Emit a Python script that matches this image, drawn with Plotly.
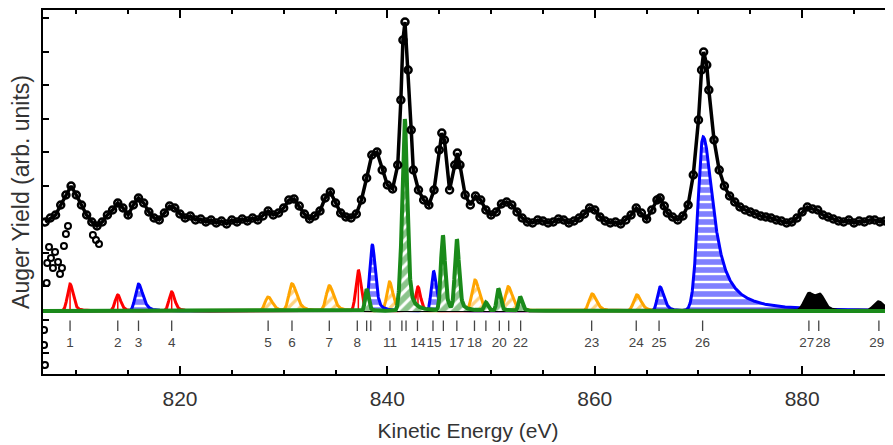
import numpy as np
import plotly.graph_objects as go

energy = [807.0, 807.5, 808.0, 808.5, 809.0, 809.5, 810.0, 810.5, 811.0, 811.5,
          812.0, 812.5, 813.0, 813.5, 814.0, 814.5, 815.0, 815.5, 816.0, 816.5,
          817.0, 817.5, 818.0, 818.5, 819.0, 819.5, 820.0, 820.5, 821.0, 821.5,
          822.0, 822.5, 823.0, 823.5, 824.0, 824.5, 825.0, 825.5, 826.0, 826.5,
          827.0, 827.5, 828.0, 828.5, 829.0, 829.5, 830.0, 830.5, 831.0, 831.5,
          832.0, 832.5, 833.0, 833.5, 834.0, 834.5, 835.0, 835.5, 836.0, 836.5,
          837.0, 837.5, 838.0, 838.5, 839.0, 839.5, 840.0, 840.5, 841.0, 841.3,
          841.5, 841.7, 842.0, 842.3, 842.5, 843.0, 843.5, 844.0, 844.5, 845.0,
          845.25, 845.5, 846.0, 846.5, 846.75, 847.0, 847.5, 848.0, 848.5, 849.0,
          849.5, 850.0, 850.5, 851.0, 851.5, 852.0, 852.5, 853.0, 853.5, 854.0,
          854.5, 855.0, 855.5, 856.0, 856.5, 857.0, 857.5, 858.0, 858.5, 859.0,
          859.5, 860.0, 860.5, 861.0, 861.5, 862.0, 862.5, 863.0, 863.5, 864.0,
          864.5, 865.0, 865.5, 866.0, 866.3, 866.7, 867.0, 867.5, 868.0, 868.5,
          869.0, 869.5, 870.0, 870.3, 870.5, 870.8, 871.0, 871.5, 872.0, 872.5,
          873.0, 873.5, 874.0, 874.5, 875.0, 875.5, 876.0, 876.5, 877.0, 877.5,
          878.0, 878.5, 879.0, 879.5, 880.0, 880.5, 881.0, 881.5, 882.0, 882.5,
          883.0, 883.5, 884.0, 884.5, 885.0, 885.5, 886.0, 886.5, 887.0, 887.5,
          888.0, 888.5]
auger_yield = [0.89, 0.93, 0.96, 1.06, 1.16, 1.25, 1.16, 1.06, 0.96, 0.89,
               0.85, 0.89, 0.96, 1.01, 1.08, 1.03, 0.96, 1.06, 1.13, 1.08,
               0.99, 0.93, 0.91, 0.98, 1.05, 1.03, 0.97, 0.93, 0.95, 0.91,
               0.92, 0.89, 0.91, 0.88, 0.90, 0.87, 0.91, 0.89, 0.92, 0.90,
               0.93, 0.91, 0.95, 1.00, 0.96, 0.98, 1.03, 1.11, 1.12, 1.05,
               0.97, 0.92, 0.95, 1.00, 1.13, 1.19, 1.08, 0.98, 0.94, 0.93,
               0.97, 1.11, 1.33, 1.56, 1.59, 1.41, 1.26, 1.22, 1.46, 2.11,
               2.71, 2.89, 2.41, 1.81, 1.41, 1.21, 1.11, 1.06, 1.21, 1.61,
               1.78, 1.71, 1.21, 1.46, 1.58, 1.46, 1.16, 1.06, 1.15, 1.11,
               1.01, 0.96, 0.99, 1.07, 1.09, 1.06, 0.99, 0.93, 0.89, 0.88,
               0.91, 0.90, 0.88, 0.89, 0.92, 0.91, 0.88, 0.90, 0.93, 0.97,
               1.03, 1.01, 0.94, 0.90, 0.88, 0.89, 0.87, 0.91, 0.96, 1.03,
               0.98, 0.92, 1.01, 1.11, 1.13, 1.05, 0.98, 0.94, 0.91, 0.95,
               1.06, 1.36, 1.91, 2.41, 2.59, 2.46, 2.21, 1.71, 1.41, 1.25,
               1.15, 1.09, 1.04, 1.01, 0.99, 0.97, 0.95, 0.94, 0.93, 0.91,
               0.90, 0.88, 0.89, 0.93, 0.99, 1.04, 1.02, 1.01, 0.96, 0.94,
               0.92, 0.90, 0.89, 0.91, 0.88, 0.90, 0.89, 0.91, 0.91, 0.89,
               0.90, 0.91]

# stray low points at the start of the scan
stray_energy = [806.89, 806.89, 806.98, 807.14, 807.20, 807.37, 807.56, 807.75,
                807.95, 808.24, 808.43, 808.62, 808.81, 809.00, 809.20, 811.60,
                811.90, 812.19]
stray_yield = [-0.19, -0.34, -0.54, 0.28, 0.48, 0.64, 0.53, 0.43,
               0.59, 0.49, 0.37, 0.43, 0.65, 0.77, 0.85, 0.76,
               0.71, 0.67]

# ---------------- fitted components ----------------
peak_center = [809.4, 814.0, 816.0, 819.2, 828.5, 830.8, 834.4, 837.2, 838.0, 838.55,
               840.2, 841.4, 841.7, 842.95, 844.45, 845.35, 846.7, 848.45, 849.5, 850.7,
               851.65, 852.8, 859.75, 864.05, 866.3, 870.45, 880.65, 881.7, 887.35]
peak_height = [0.27, 0.16, 0.27, 0.19, 0.14, 0.27, 0.25, 0.41, 0.22, 0.66,
               0.29, 0.50, 1.66, 0.24, 0.40, 0.75, 0.70, 0.31, 0.08, 0.22,
               0.24, 0.14, 0.17, 0.16, 0.24, 1.74, 0.17, 0.15, 0.09]
peak_wleft = [0.30, 0.30, 0.35, 0.30, 0.35, 0.35, 0.35, 0.28, 0.18, 0.30,
              0.30, 0.25, 0.22, 0.28, 0.25, 0.22, 0.22, 0.35, 0.18, 0.18,
              0.35, 0.18, 0.35, 0.35, 0.30, 0.59, 0.50, 0.50, 0.50]
peak_wright = [0.35, 0.35, 0.50, 0.35, 0.50, 0.55, 0.50, 0.30, 0.20, 0.35,
               0.40, 0.30, 0.28, 0.30, 0.30, 0.25, 0.25, 0.50, 0.20, 0.22,
               0.50, 0.22, 0.50, 0.50, 0.45, 1.20, 0.50, 0.50, 0.60]
peak_eta = [0.5, 0.5, 0.5, 0.5, 0.5, 0.5, 0.5, 0.5, 0.5, 0.5,
            0.5, 0.5, 0.5, 0.5, 0.5, 0.5, 0.5, 0.5, 0.5, 0.5,
            0.5, 0.5, 0.5, 0.5, 0.5, 1.0, 0.5, 0.5, 0.5]
peak_group = ["red", "red", "blue", "red", "orange", "orange", "orange", "red", "green", "blue",
              "orange", "green", "green", "red", "blue", "green", "green", "orange", "green", "green",
              "orange", "green", "orange", "orange", "blue", "blue", "black", "black", "black"]

# ---------------- assignment markers ----------------
line_energy = [809.4, 814.0, 816.0, 819.2, 828.5, 830.8, 834.4, 837.1, 838.0, 838.4,
               840.25, 841.4, 841.8, 842.9, 844.4, 845.4, 846.7, 848.4, 849.5, 850.8,
               851.7, 852.85, 859.7, 864.0, 866.2, 870.4, 880.65, 881.6, 887.4]
label_energy = [809.4, 814.0, 816.0, 819.2, 828.5, 830.8, 834.4, 837.1, 838.0, 838.4,
                840.25, 841.4, 841.8, 842.95, 844.5, 845.4, 846.7, 848.4, 849.5, 850.8,
                851.7, 852.85, 859.7, 864.0, 866.2, 870.4, 880.45, 882.0, 887.2]
line_label = ["1", "2", "3", "4", "5", "6", "7", "8", "", "",
              "11", "", "", "14", "15", "", "17", "18", "", "20",
              "", "22", "23", "24", "25", "26", "27", "28", "29"]

x_range = [806.79, 888.76]
y_range = [-0.63, 3.01]
tick_bar = [-0.095, -0.20]
label_level = -0.325

colors = {"red": "#ff0000", "blue": "#0000ff", "orange": "#ffa500",
          "green": "#1a8a1a", "black": "#000000"}


def profile(x, c, h, wl, wr, eta):
    d = x - c
    left = h * np.exp(-np.log(2) * (d / wl) ** 2)
    g = np.exp(-np.log(2) * (d / wr) ** 2)
    lor = 1.0 / (1.0 + (d / wr) ** 2)
    right = h * (eta * lor + (1 - eta) * g)
    return np.where(d < 0, left, right)


grid = np.linspace(x_range[0], x_range[1], 5000)

fig = go.Figure()

order = ["orange", "red", "blue", "black", "green"]
for grp in order:
    total = np.zeros_like(grid)
    for c, h, wl, wr, eta, g in zip(peak_center, peak_height, peak_wleft,
                                    peak_wright, peak_eta, peak_group):
        if g == grp:
            total += profile(grid, c, h, wl, wr, eta)
    col = colors[grp]
    kw = dict(x=grid, y=total, mode="lines", line=dict(color=col, width=3),
              showlegend=False, hoverinfo="skip")
    if grp == "blue":
        kw.update(fill="tozeroy",
                  fillpattern=dict(shape="-", fgcolor=col, bgcolor="white",
                                   size=8, solidity=0.7))
    elif grp == "green":
        kw.update(fill="tozeroy", line=dict(color=col, width=4),
                  fillpattern=dict(shape="/", fgcolor=col, bgcolor="white",
                                   size=9, solidity=0.65))
    elif grp == "orange":
        kw.update(fill="tozeroy",
                  fillpattern=dict(shape="/", fgcolor=col, bgcolor="white",
                                   size=8, solidity=0.4))
    elif grp == "black":
        kw.update(fill="tozeroy", fillcolor=col)
    fig.add_trace(go.Scatter(**kw))
    if grp == "red":
        sx, sy = [], []
        for c, h, g in zip(peak_center, peak_height, peak_group):
            if g == "red":
                sx += [c, c, None]
                sy += [0, h, None]
        fig.add_trace(go.Scatter(x=sx, y=sy, mode="lines",
                                 line=dict(color=col, width=1.5),
                                 showlegend=False, hoverinfo="skip"))

# assignment bars and numbers
bx, by = [], []
for e in line_energy:
    bx += [e, e, None]
    by += [tick_bar[0], tick_bar[1], None]
fig.add_trace(go.Scatter(x=bx, y=by, mode="lines", line=dict(color="#444", width=1.3),
                         showlegend=False, hoverinfo="skip"))
fig.add_trace(go.Scatter(x=label_energy, y=[label_level] * len(label_energy), mode="text",
                         text=line_label, textposition="middle center",
                         textfont=dict(family="Liberation Sans", size=13.5, color="#444"),
                         showlegend=False, hoverinfo="skip"))

# experimental data
fig.add_trace(go.Scatter(x=stray_energy, y=stray_yield, mode="markers",
                         marker=dict(symbol="circle-open", size=6, color="black",
                                     line=dict(width=2)),
                         showlegend=False))
fig.add_trace(go.Scatter(x=energy, y=auger_yield, mode="lines+markers",
                         line=dict(color="black", width=3.5),
                         marker=dict(symbol="circle-open", size=7, color="black",
                                     line=dict(width=2.5)),
                         showlegend=False))

# page body has an 8px default margin: size the figure so the plot frame lands
# where the reference has it
fig.update_layout(
    width=885, height=437,
    margin=dict(l=35, r=0, t=2, b=71),
    plot_bgcolor="white", paper_bgcolor="white",
    font=dict(family="Liberation Sans", color="#333"),
)
fig.update_xaxes(
    range=x_range, showgrid=False, zeroline=False, automargin=False,
    showline=True, linecolor="black", linewidth=2, mirror="ticks",
    ticks="inside", tick0=800, dtick=20, ticklen=8, tickwidth=2, tickcolor="black",
    minor=dict(ticks="inside", dtick=5, ticklen=4, tickwidth=2, tickcolor="black"),
    tickfont=dict(size=21, color="#333"), ticklabelstandoff=5,
    title=dict(text="Kinetic Energy (eV)", font=dict(size=21, color="#333"), standoff=14),
)
fig.update_yaxes(
    range=y_range, showgrid=False, zeroline=False, automargin=False,
    showline=True, linecolor="black", linewidth=2, mirror=False,
    ticks="inside", tick0=-0.42, dtick=0.335, ticklen=6, tickwidth=2, tickcolor="black",
    showticklabels=False,
    title=dict(text="Auger Yield (arb. units)", font=dict(size=23, color="#333"), standoff=6),
)

fig.write_html("out.html")
